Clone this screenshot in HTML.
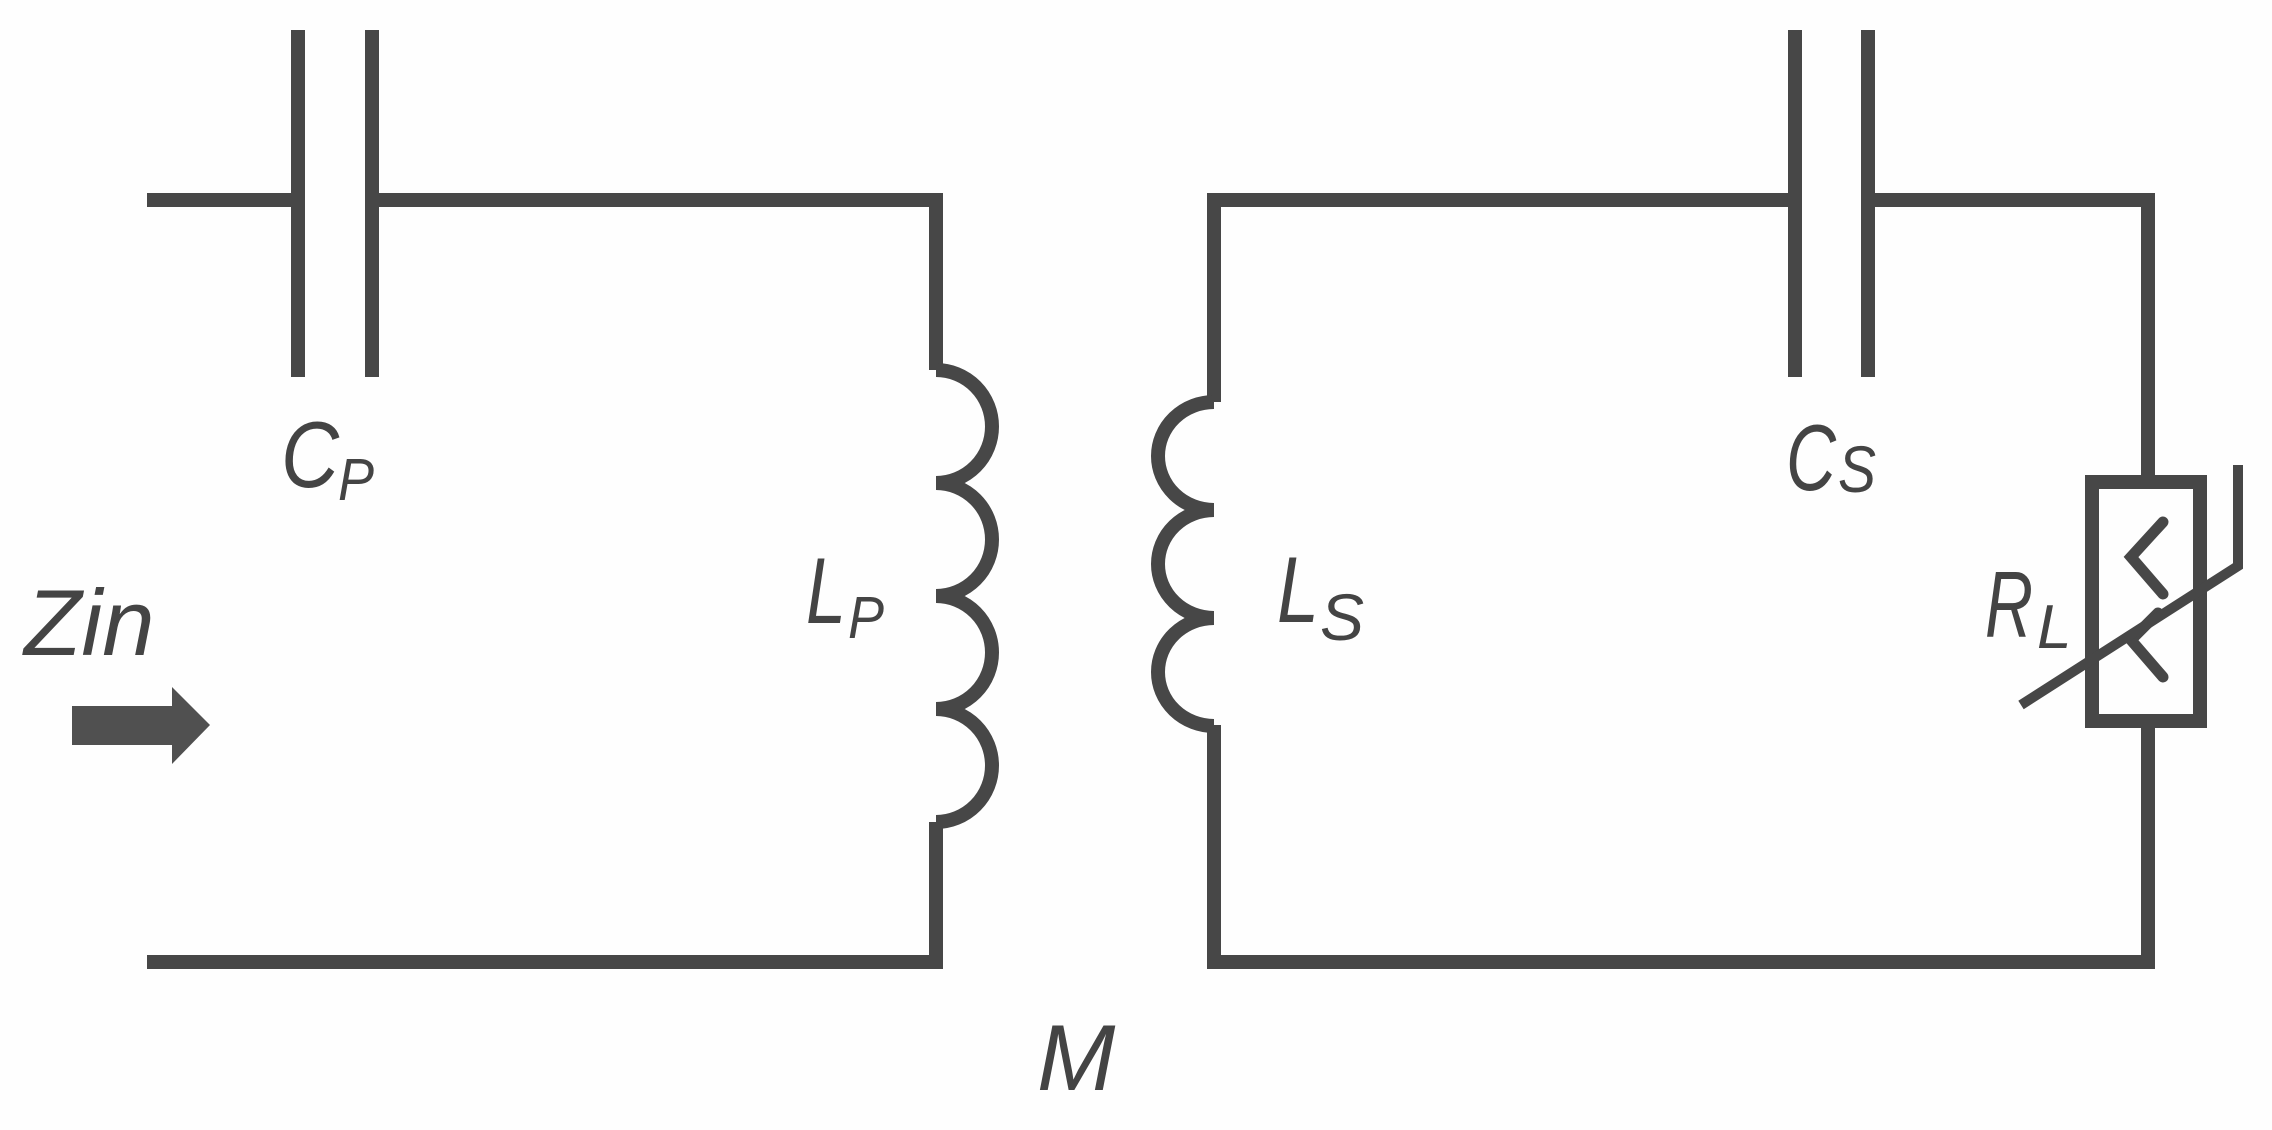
<!DOCTYPE html>
<html><head><style>html,body{margin:0;padding:0;background:#fff;}svg{display:block}</style></head>
<body>
<svg width="2272" height="1130" viewBox="0 0 2272 1130" xmlns="http://www.w3.org/2000/svg">
<rect width="2272" height="1130" fill="#fefefe"/>
<g stroke="#474747" stroke-width="14" fill="none" stroke-linecap="butt" stroke-linejoin="miter">
<path d="M147 200 H298"/>
<path d="M298 30 V377 M372 30 V377"/>
<path d="M372 200 H936 V370"/>
<path d="M936 370 a56 56.5 0 0 1 0 113 a56 56.5 0 0 1 0 113 a56 56.5 0 0 1 0 113 a56 56.5 0 0 1 0 113"/>
<path d="M936 822 V962 H147"/>
<path d="M1214 402 V200 H1795"/>
<path d="M1795 30 V377 M1868 30 V377"/>
<path d="M1868 200 H2148 V482"/>
<path d="M1214 402 a56 54 0 0 0 0 108 a56 54 0 0 0 0 108 a56 54 0 0 0 0 108"/>
<path d="M1214 725 V962 H2148 V721"/>
<rect x="2092" y="482" width="108" height="239"/>
<path d="M2163 522 L2131 557 L2163 594" stroke-width="11" stroke-linecap="round"/>
<path d="M2158 613 L2131 640 L2163 677" stroke-width="11" stroke-linecap="round"/>
<path d="M2021 705 L2238 566 V465" stroke-width="10"/>
</g>
<path d="M72 706 H172 V687 L210 725 L172 764 V745 H72 Z" fill="#505050"/>
<g fill="#444" font-family="'Liberation Sans',sans-serif" font-style="italic" font-size="94">
<text x="24" y="655">Zin</text>
<text x="281" y="487" textLength="58" lengthAdjust="spacingAndGlyphs">C</text><text x="338" y="500" font-size="59" textLength="36" lengthAdjust="spacingAndGlyphs">P</text>
<text x="806" y="623" textLength="40" lengthAdjust="spacingAndGlyphs">L</text><text x="848" y="638" font-size="59" textLength="36" lengthAdjust="spacingAndGlyphs">P</text>
<text x="1786" y="490" textLength="50" lengthAdjust="spacingAndGlyphs">C</text><text x="1838" y="492" font-size="66" textLength="38" lengthAdjust="spacingAndGlyphs">S</text>
<text x="1277" y="622" textLength="42" lengthAdjust="spacingAndGlyphs">L</text><text x="1320" y="640" font-size="66">S</text>
<text x="1985" y="637" textLength="48" lengthAdjust="spacingAndGlyphs">R</text><text x="2037" y="648" font-size="62">L</text>
<text x="1037" y="1090">M</text>
</g>
</svg>
</body></html>
